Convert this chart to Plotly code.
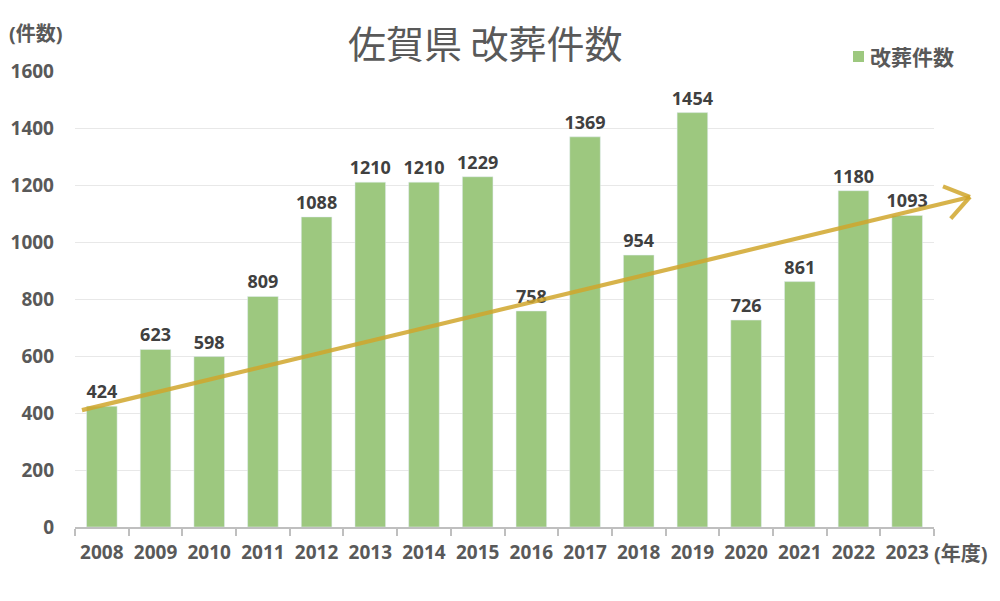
import math
import plotly.graph_objects as go

years = ["2008", "2009", "2010", "2011", "2012", "2013", "2014", "2015",
         "2016", "2017", "2018", "2019", "2020", "2021", "2022", "2023"]
counts = [424, 623, 598, 809, 1088, 1210, 1210, 1229,
          758, 1369, 954, 1454, 726, 861, 1180, 1093]
y_ticks = [0, 200, 400, 600, 800, 1000, 1200, 1400, 1600]
title_text = "佐賀県 改葬件数"
series_name = "改葬件数"
y_unit = "(件数)"
x_unit = "(年度)"
# trend arrow: start/end as (category index, value)
trend_start = (-0.37, 410)
trend_end = (16.17, 1158)

OFF = 8  # page body margin
W, H = 992, 593
# plot area in screen pixels: x 75..934, y 71..527
SL, ST, SR, SB = 75, 71, 934, 527
ML, MT = SL - OFF, ST - OFF
PW, PH = SR - SL, SB - ST
MR, MB = W - ML - PW, H - MT - PH
YMAX = 1600
N = len(years)

FONT = "Noto Sans, Noto Sans CJK JP, sans-serif"
BAR = "rgb(157,200,127)"
GOLD = "rgba(208,166,44,0.85)"
TXT = "#595959"
LBL = "#404040"

def to_px(ix, v):
    return SL + (ix + 0.5) / N * PW, SB - v / YMAX * PH

def to_paper(px, py):
    return (px - SL) / PW, (SB - py) / PH

fig = go.Figure()
fig.add_trace(go.Bar(
    x=years, y=counts, marker_color=BAR, name=series_name, showlegend=False,
    text=counts, textposition="outside", cliponaxis=False, constraintext="none",
    textfont=dict(family=FONT, size=18, color=LBL, weight="bold"),
))

shapes = []
sx, sy = to_px(*trend_start)
ex, ey = to_px(*trend_end)
p0 = to_paper(sx, sy)
p1 = to_paper(ex, ey)
shapes.append(dict(type="line", xref="paper", yref="paper", x0=p0[0], y0=p0[1],
                   x1=p1[0], y1=p1[1], line=dict(color=GOLD, width=4.2)))
# chevron head
dx, dy = ex - sx, ey - sy
L = math.hypot(dx, dy)
ux, uy = -dx / L, -dy / L
for ang in (35, -35):
    a = math.radians(ang)
    rx = ux * math.cos(a) - uy * math.sin(a)
    ry = ux * math.sin(a) + uy * math.cos(a)
    hx, hy = ex + rx * 29, ey + ry * 29
    q = to_paper(hx, hy)
    shapes.append(dict(type="line", xref="paper", yref="paper", x0=q[0], y0=q[1],
                       x1=p1[0], y1=p1[1], line=dict(color=GOLD, width=4.2)))

# legend square
lx0, ly0 = to_paper(853, 51)
lx1, ly1 = to_paper(864, 62)
shapes.append(dict(type="rect", xref="paper", yref="paper", x0=lx0, y0=ly1, x1=lx1, y1=ly0,
                   fillcolor=BAR, line=dict(width=0)))

annotations = [
    dict(text=title_text, xref="paper", yref="paper", x=to_paper(485, 0)[0], y=to_paper(0, 42)[1],
         showarrow=False, xanchor="center", yanchor="middle",
         font=dict(family="Noto Sans CJK JP", size=38, color=TXT)),
    dict(text=series_name, xref="paper", yref="paper", x=to_paper(868, 0)[0], y=to_paper(0, 56)[1],
         showarrow=False, xanchor="left", yanchor="middle",
         font=dict(family="Noto Sans CJK JP", size=21, color=TXT, weight="bold")),
    dict(text=y_unit, xref="paper", yref="paper", x=to_paper(7, 0)[0], y=to_paper(0, 33)[1],
         showarrow=False, xanchor="left", yanchor="middle",
         font=dict(family=FONT, size=20, color=TXT, weight="bold")),
    dict(text=x_unit, xref="paper", yref="paper", x=to_paper(932, 0)[0], y=to_paper(0, 553)[1],
         showarrow=False, xanchor="left", yanchor="middle",
         font=dict(family=FONT, size=20, color=TXT, weight="bold")),
]

fig.update_layout(
    width=W, height=H,
    margin=dict(l=ML, r=MR, t=MT, b=MB, autoexpand=False),
    paper_bgcolor="white", plot_bgcolor="white",
    bargap=0.43,
    shapes=shapes, annotations=annotations,
    xaxis=dict(type="category", tickson="boundaries", ticks="outside", ticklen=7,
               tickcolor="#BFBFBF", tickwidth=2, showline=True, linecolor="#BFBFBF",
               linewidth=2, showgrid=False, range=[-0.5, N - 0.5],
               ticklabelstandoff=7, automargin=False,
               tickfont=dict(family=FONT, size=19, color=TXT, weight="bold")),
    yaxis=dict(range=[0, YMAX], tickvals=y_ticks, showgrid=True, gridcolor="#E8E8E8",
               gridwidth=1, zeroline=False, showline=False, ticks="",
               ticklabelstandoff=20, automargin=False,
               tickfont=dict(family=FONT, size=19, color=TXT, weight="bold")),
)

fig.write_html("out.html")
